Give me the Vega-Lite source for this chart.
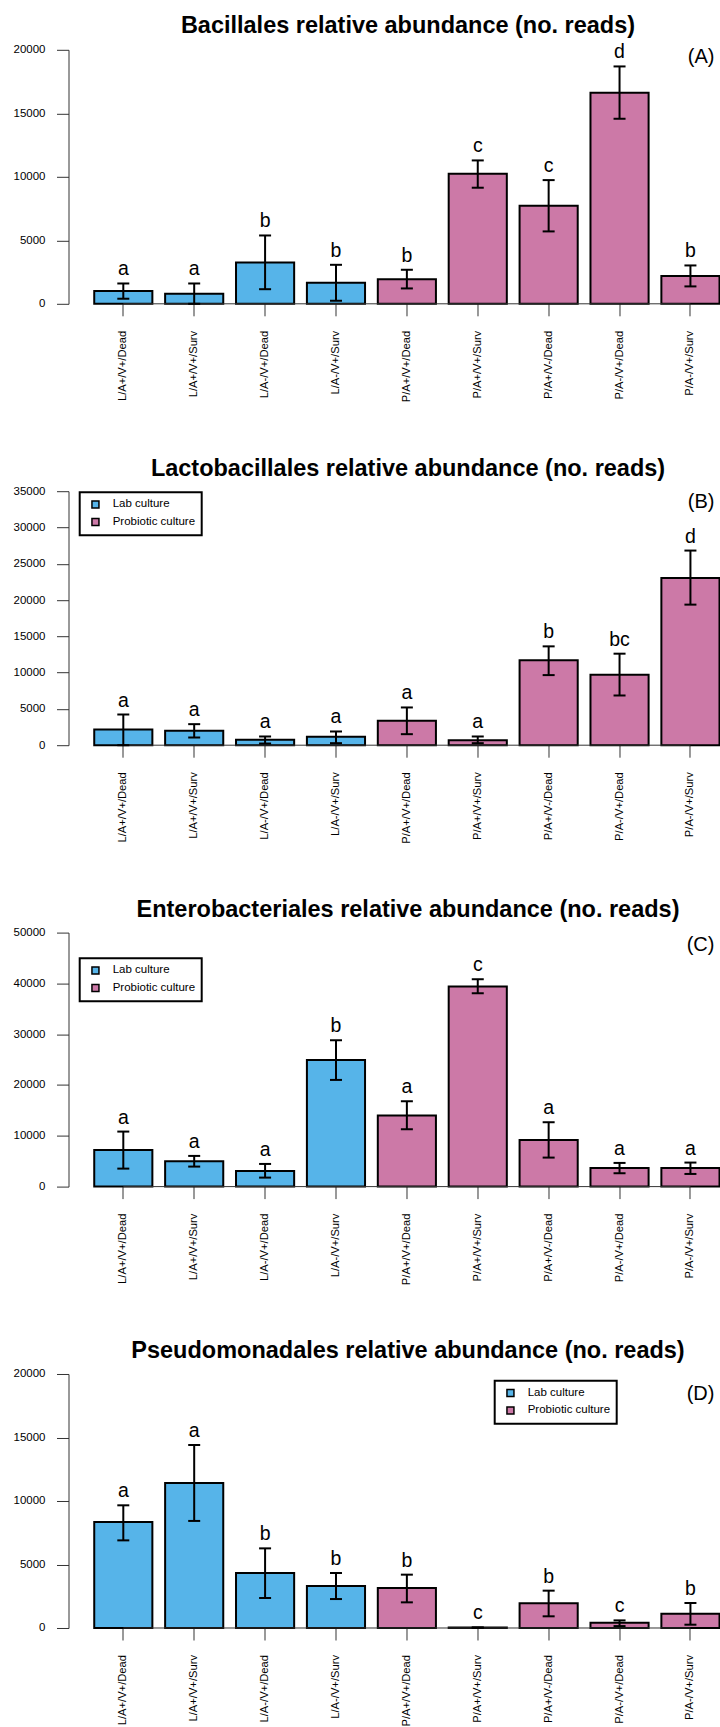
{
  "$schema": "https://vega.github.io/schema/vega-lite/v6.json",
  "background": "white",
  "padding": {"left": 12.5, "top": 13.8, "right": 0, "bottom": 0},
  "config": {
    "view": {"stroke": null},
    "font": "Liberation Sans",
    "title": {"font": "Liberation Sans", "fontSize": 23.5, "fontWeight": "bold", "color": "black", "anchor": "middle", "frame": "group", "offset": 5, "baseline": "alphabetic", "dx": 14},
    "axisY": {"grid": false, "tickSize": 12, "tickColor": "#333", "domainColor": "#333", "labelFont": "Liberation Sans", "labelFontSize": 11.5, "labelColor": "black", "labelPadding": 11.5, "format": "d", "labelOverlap": false},
    "axisX": {"labelAngle": -90, "labelFont": "Liberation Sans", "labelFontSize": 11.2, "labelColor": "black", "tickSize": 12, "tickColor": "#333", "labelPadding": 14.5, "domain": false, "labelLimit": 200},
    "legend": {"orient": "none", "title": null, "symbolType": "square", "symbolSize": 49, "symbolStrokeColor": "black", "symbolStrokeWidth": 1.5, "labelFont": "Liberation Sans", "labelFontSize": 11.5, "labelColor": "black", "labelOffset": 11.5, "symbolOffset": 3.5, "rowPadding": 3.5, "padding": 6.5, "strokeColor": "black", "strokeWidth": 2, "fillColor": "white"}
  },
  "data": {"values": [
    {"panel": "A", "group": "L/A+/V+/Dead", "culture": "Lab culture", "mean": 1000, "lo": 400, "hi": 1600, "letter": "a"},
    {"panel": "A", "group": "L/A+/V+/Surv", "culture": "Lab culture", "mean": 800, "lo": 0, "hi": 1600, "letter": "a"},
    {"panel": "A", "group": "L/A-/V+/Dead", "culture": "Lab culture", "mean": 3250, "lo": 1150, "hi": 5380, "letter": "b"},
    {"panel": "A", "group": "L/A-/V+/Surv", "culture": "Lab culture", "mean": 1650, "lo": 240, "hi": 3070, "letter": "b"},
    {"panel": "A", "group": "P/A+/V+/Dead", "culture": "Probiotic culture", "mean": 1940, "lo": 1210, "hi": 2680, "letter": "b"},
    {"panel": "A", "group": "P/A+/V+/Surv", "culture": "Probiotic culture", "mean": 10240, "lo": 9140, "hi": 11290, "letter": "c"},
    {"panel": "A", "group": "P/A+/V-/Dead", "culture": "Probiotic culture", "mean": 7720, "lo": 5700, "hi": 9740, "letter": "c"},
    {"panel": "A", "group": "P/A-/V+/Dead", "culture": "Probiotic culture", "mean": 16620, "lo": 14570, "hi": 18690, "letter": "d"},
    {"panel": "A", "group": "P/A-/V+/Surv", "culture": "Probiotic culture", "mean": 2180, "lo": 1370, "hi": 3020, "letter": "b"},
    {"panel": "B", "group": "L/A+/V+/Dead", "culture": "Lab culture", "mean": 2160, "lo": 0, "hi": 4230, "letter": "a"},
    {"panel": "B", "group": "L/A+/V+/Surv", "culture": "Lab culture", "mean": 1980, "lo": 1060, "hi": 2900, "letter": "a"},
    {"panel": "B", "group": "L/A-/V+/Dead", "culture": "Lab culture", "mean": 740, "lo": 230, "hi": 1200, "letter": "a"},
    {"panel": "B", "group": "L/A-/V+/Surv", "culture": "Lab culture", "mean": 1150, "lo": 280, "hi": 1890, "letter": "a"},
    {"panel": "B", "group": "P/A+/V+/Dead", "culture": "Probiotic culture", "mean": 3360, "lo": 1520, "hi": 5200, "letter": "a"},
    {"panel": "B", "group": "P/A+/V+/Surv", "culture": "Probiotic culture", "mean": 690, "lo": 280, "hi": 1200, "letter": "a"},
    {"panel": "B", "group": "P/A+/V-/Dead", "culture": "Probiotic culture", "mean": 11690, "lo": 9660, "hi": 13620, "letter": "b"},
    {"panel": "B", "group": "P/A-/V+/Dead", "culture": "Probiotic culture", "mean": 9710, "lo": 6850, "hi": 12610, "letter": "bc"},
    {"panel": "B", "group": "P/A-/V+/Surv", "culture": "Probiotic culture", "mean": 23050, "lo": 19370, "hi": 26820, "letter": "d"},
    {"panel": "C", "group": "L/A+/V+/Dead", "culture": "Lab culture", "mean": 7220, "lo": 3540, "hi": 10830, "letter": "a"},
    {"panel": "C", "group": "L/A+/V+/Surv", "culture": "Lab culture", "mean": 4990, "lo": 3940, "hi": 6040, "letter": "a"},
    {"panel": "C", "group": "L/A-/V+/Dead", "culture": "Lab culture", "mean": 3080, "lo": 1770, "hi": 4460, "letter": "a"},
    {"panel": "C", "group": "L/A-/V+/Surv", "culture": "Lab culture", "mean": 24940, "lo": 21000, "hi": 28810, "letter": "b"},
    {"panel": "C", "group": "P/A+/V+/Dead", "culture": "Probiotic culture", "mean": 13980, "lo": 11290, "hi": 16800, "letter": "a"},
    {"panel": "C", "group": "P/A+/V+/Surv", "culture": "Probiotic culture", "mean": 39370, "lo": 38060, "hi": 40820, "letter": "c"},
    {"panel": "C", "group": "P/A+/V-/Dead", "culture": "Probiotic culture", "mean": 9190, "lo": 5710, "hi": 12670, "letter": "a"},
    {"panel": "C", "group": "P/A-/V+/Dead", "culture": "Probiotic culture", "mean": 3680, "lo": 2630, "hi": 4660, "letter": "a"},
    {"panel": "C", "group": "P/A-/V+/Surv", "culture": "Probiotic culture", "mean": 3650, "lo": 2490, "hi": 4730, "letter": "a"},
    {"panel": "D", "group": "L/A+/V+/Dead", "culture": "Lab culture", "mean": 8350, "lo": 6900, "hi": 9660, "letter": "a"},
    {"panel": "D", "group": "L/A+/V+/Surv", "culture": "Lab culture", "mean": 11420, "lo": 8430, "hi": 14410, "letter": "a"},
    {"panel": "D", "group": "L/A-/V+/Dead", "culture": "Lab culture", "mean": 4330, "lo": 2360, "hi": 6270, "letter": "b"},
    {"panel": "D", "group": "L/A-/V+/Surv", "culture": "Lab culture", "mean": 3310, "lo": 2280, "hi": 4330, "letter": "b"},
    {"panel": "D", "group": "P/A+/V+/Dead", "culture": "Probiotic culture", "mean": 3150, "lo": 2020, "hi": 4200, "letter": "b"},
    {"panel": "D", "group": "P/A+/V+/Surv", "culture": "Probiotic culture", "mean": 30, "lo": 10, "hi": 50, "letter": "c"},
    {"panel": "D", "group": "P/A+/V-/Dead", "culture": "Probiotic culture", "mean": 1940, "lo": 920, "hi": 2940, "letter": "b"},
    {"panel": "D", "group": "P/A-/V+/Dead", "culture": "Probiotic culture", "mean": 420, "lo": 150, "hi": 600, "letter": "c"},
    {"panel": "D", "group": "P/A-/V+/Surv", "culture": "Probiotic culture", "mean": 1130, "lo": 260, "hi": 1970, "letter": "b"}
  ]},
  "spacing": 187.4,
  "bounds": "flush",
  "resolve": {"scale": {"color": "independent", "x": "independent", "y": "independent"}, "legend": {"color": "independent"}},
  "vconcat": [
    {
      "title": "Bacillales relative abundance (no. reads)",
      "width": 651, "height": 254,
      "transform": [{"filter": "datum.panel === 'A'"}],
      "encoding": {"x": {"field": "group", "type": "nominal", "title": null, "sort": ["L/A+/V+/Dead","L/A+/V+/Surv","L/A-/V+/Dead","L/A-/V+/Surv","P/A+/V+/Dead","P/A+/V+/Surv","P/A+/V-/Dead","P/A-/V+/Dead","P/A-/V+/Surv"], "scale": {"type": "band", "paddingInner": 0.18, "paddingOuter": 0.1815, "align": 1, "round": false}}},
      "layer": [
        {"mark": {"type": "bar", "stroke": "black", "strokeWidth": 2}, "encoding": {"y": {"field": "mean", "type": "quantitative", "title": null, "scale": {"domain": [0, 20000], "nice": false}, "axis": {"values": [0, 5000, 10000, 15000, 20000]}}, "color": {"field": "culture", "type": "nominal", "scale": {"domain": ["Lab culture", "Probiotic culture"], "range": ["#56B4E9", "#CC79A7"]}, "legend": null}}},
        {"transform": [{"filter": "datum.group === 'L/A+/V+/Dead'"}], "mark": {"type": "rule", "color": "#333", "strokeWidth": 1}, "encoding": {"x": {"datum": "L/A+/V+/Dead", "title": null}, "x2": {"datum": "P/A-/V+/Surv"}, "y": {"datum": 0, "type": "quantitative", "title": null, "axis": {"values": [0, 5000, 10000, 15000, 20000]}}}},
        {"mark": {"type": "rule", "color": "black", "strokeWidth": 2}, "encoding": {"y": {"field": "lo", "type": "quantitative", "title": null, "axis": {"values": [0, 5000, 10000, 15000, 20000]}}, "y2": {"field": "hi"}}},
        {"mark": {"type": "tick", "color": "black", "size": 12, "thickness": 2, "opacity": 1}, "encoding": {"y": {"field": "hi", "type": "quantitative", "title": null, "axis": {"values": [0, 5000, 10000, 15000, 20000]}}}},
        {"mark": {"type": "tick", "color": "black", "size": 12, "thickness": 2, "opacity": 1}, "encoding": {"y": {"field": "lo", "type": "quantitative", "title": null, "axis": {"values": [0, 5000, 10000, 15000, 20000]}}}},
        {"mark": {"type": "text", "font": "Liberation Sans", "fontSize": 19.5, "color": "black", "baseline": "alphabetic", "dy": -8}, "encoding": {"y": {"field": "hi", "type": "quantitative", "title": null, "axis": {"values": [0, 5000, 10000, 15000, 20000]}}, "text": {"field": "letter"}}},
        {"transform": [{"filter": "datum.group === 'P/A-/V+/Surv'"}], "mark": {"type": "text", "font": "Liberation Sans", "fontSize": 20, "color": "black", "align": "right", "baseline": "middle", "dx": 24}, "encoding": {"y": {"datum": 19450, "type": "quantitative", "title": null, "axis": {"values": [0, 5000, 10000, 15000, 20000]}}, "text": {"value": "(A)"}}}
      ]
    },
    {
      "title": "Lactobacillales relative abundance (no. reads)",
      "width": 651, "height": 254,
      "transform": [{"filter": "datum.panel === 'B'"}],
      "encoding": {"x": {"field": "group", "type": "nominal", "title": null, "sort": ["L/A+/V+/Dead","L/A+/V+/Surv","L/A-/V+/Dead","L/A-/V+/Surv","P/A+/V+/Dead","P/A+/V+/Surv","P/A+/V-/Dead","P/A-/V+/Dead","P/A-/V+/Surv"], "scale": {"type": "band", "paddingInner": 0.18, "paddingOuter": 0.1815, "align": 1, "round": false}}},
      "layer": [
        {"mark": {"type": "bar", "stroke": "black", "strokeWidth": 2}, "encoding": {"y": {"field": "mean", "type": "quantitative", "title": null, "scale": {"domain": [0, 35000], "nice": false}, "axis": {"values": [0, 5000, 10000, 15000, 20000, 25000, 30000, 35000]}}, "color": {"field": "culture", "type": "nominal", "scale": {"domain": ["Lab culture", "Probiotic culture"], "range": ["#56B4E9", "#CC79A7"]}, "legend": {"orient": "none", "legendX": 11.2, "legendY": 1}}}},
        {"transform": [{"filter": "datum.group === 'L/A+/V+/Dead'"}], "mark": {"type": "rule", "color": "#333", "strokeWidth": 1}, "encoding": {"x": {"datum": "L/A+/V+/Dead", "title": null}, "x2": {"datum": "P/A-/V+/Surv"}, "y": {"datum": 0, "type": "quantitative", "title": null, "axis": {"values": [0, 5000, 10000, 15000, 20000, 25000, 30000, 35000]}}}},
        {"mark": {"type": "rule", "color": "black", "strokeWidth": 2}, "encoding": {"y": {"field": "lo", "type": "quantitative", "title": null, "axis": {"values": [0, 5000, 10000, 15000, 20000, 25000, 30000, 35000]}}, "y2": {"field": "hi"}}},
        {"mark": {"type": "tick", "color": "black", "size": 12, "thickness": 2, "opacity": 1}, "encoding": {"y": {"field": "hi", "type": "quantitative", "title": null, "axis": {"values": [0, 5000, 10000, 15000, 20000, 25000, 30000, 35000]}}}},
        {"mark": {"type": "tick", "color": "black", "size": 12, "thickness": 2, "opacity": 1}, "encoding": {"y": {"field": "lo", "type": "quantitative", "title": null, "axis": {"values": [0, 5000, 10000, 15000, 20000, 25000, 30000, 35000]}}}},
        {"mark": {"type": "text", "font": "Liberation Sans", "fontSize": 19.5, "color": "black", "baseline": "alphabetic", "dy": -8}, "encoding": {"y": {"field": "hi", "type": "quantitative", "title": null, "axis": {"values": [0, 5000, 10000, 15000, 20000, 25000, 30000, 35000]}}, "text": {"field": "letter"}}},
        {"transform": [{"filter": "datum.group === 'P/A-/V+/Surv'"}], "mark": {"type": "text", "font": "Liberation Sans", "fontSize": 20, "color": "black", "align": "right", "baseline": "middle", "dx": 24}, "encoding": {"y": {"datum": 33580, "type": "quantitative", "title": null, "axis": {"values": [0, 5000, 10000, 15000, 20000, 25000, 30000, 35000]}}, "text": {"value": "(B)"}}}
      ]
    },
    {
      "title": "Enterobacteriales relative abundance (no. reads)",
      "width": 651, "height": 254,
      "transform": [{"filter": "datum.panel === 'C'"}],
      "encoding": {"x": {"field": "group", "type": "nominal", "title": null, "sort": ["L/A+/V+/Dead","L/A+/V+/Surv","L/A-/V+/Dead","L/A-/V+/Surv","P/A+/V+/Dead","P/A+/V+/Surv","P/A+/V-/Dead","P/A-/V+/Dead","P/A-/V+/Surv"], "scale": {"type": "band", "paddingInner": 0.18, "paddingOuter": 0.1815, "align": 1, "round": false}}},
      "layer": [
        {"mark": {"type": "bar", "stroke": "black", "strokeWidth": 2}, "encoding": {"y": {"field": "mean", "type": "quantitative", "title": null, "scale": {"domain": [0, 50000], "nice": false}, "axis": {"values": [0, 10000, 20000, 30000, 40000, 50000]}}, "color": {"field": "culture", "type": "nominal", "scale": {"domain": ["Lab culture", "Probiotic culture"], "range": ["#56B4E9", "#CC79A7"]}, "legend": {"orient": "none", "legendX": 11.2, "legendY": 25.6}}}},
        {"transform": [{"filter": "datum.group === 'L/A+/V+/Dead'"}], "mark": {"type": "rule", "color": "#333", "strokeWidth": 1}, "encoding": {"x": {"datum": "L/A+/V+/Dead", "title": null}, "x2": {"datum": "P/A-/V+/Surv"}, "y": {"datum": 0, "type": "quantitative", "title": null, "axis": {"values": [0, 10000, 20000, 30000, 40000, 50000]}}}},
        {"mark": {"type": "rule", "color": "black", "strokeWidth": 2}, "encoding": {"y": {"field": "lo", "type": "quantitative", "title": null, "axis": {"values": [0, 10000, 20000, 30000, 40000, 50000]}}, "y2": {"field": "hi"}}},
        {"mark": {"type": "tick", "color": "black", "size": 12, "thickness": 2, "opacity": 1}, "encoding": {"y": {"field": "hi", "type": "quantitative", "title": null, "axis": {"values": [0, 10000, 20000, 30000, 40000, 50000]}}}},
        {"mark": {"type": "tick", "color": "black", "size": 12, "thickness": 2, "opacity": 1}, "encoding": {"y": {"field": "lo", "type": "quantitative", "title": null, "axis": {"values": [0, 10000, 20000, 30000, 40000, 50000]}}}},
        {"mark": {"type": "text", "font": "Liberation Sans", "fontSize": 19.5, "color": "black", "baseline": "alphabetic", "dy": -8}, "encoding": {"y": {"field": "hi", "type": "quantitative", "title": null, "axis": {"values": [0, 10000, 20000, 30000, 40000, 50000]}}, "text": {"field": "letter"}}},
        {"transform": [{"filter": "datum.group === 'P/A-/V+/Surv'"}], "mark": {"type": "text", "font": "Liberation Sans", "fontSize": 20, "color": "black", "align": "right", "baseline": "middle", "dx": 24}, "encoding": {"y": {"datum": 47640, "type": "quantitative", "title": null, "axis": {"values": [0, 10000, 20000, 30000, 40000, 50000]}}, "text": {"value": "(C)"}}}
      ]
    },
    {
      "title": "Pseudomonadales relative abundance (no. reads)",
      "width": 651, "height": 254,
      "transform": [{"filter": "datum.panel === 'D'"}],
      "encoding": {"x": {"field": "group", "type": "nominal", "title": null, "sort": ["L/A+/V+/Dead","L/A+/V+/Surv","L/A-/V+/Dead","L/A-/V+/Surv","P/A+/V+/Dead","P/A+/V+/Surv","P/A+/V-/Dead","P/A-/V+/Dead","P/A-/V+/Surv"], "scale": {"type": "band", "paddingInner": 0.18, "paddingOuter": 0.1815, "align": 1, "round": false}}},
      "layer": [
        {"mark": {"type": "bar", "stroke": "black", "strokeWidth": 2}, "encoding": {"y": {"field": "mean", "type": "quantitative", "title": null, "scale": {"domain": [0, 20000], "nice": false}, "axis": {"values": [0, 5000, 10000, 15000, 20000]}}, "color": {"field": "culture", "type": "nominal", "scale": {"domain": ["Lab culture", "Probiotic culture"], "range": ["#56B4E9", "#CC79A7"]}, "legend": {"orient": "none", "legendX": 426.2, "legendY": 6.7}}}},
        {"transform": [{"filter": "datum.group === 'L/A+/V+/Dead'"}], "mark": {"type": "rule", "color": "#333", "strokeWidth": 1}, "encoding": {"x": {"datum": "L/A+/V+/Dead", "title": null}, "x2": {"datum": "P/A-/V+/Surv"}, "y": {"datum": 0, "type": "quantitative", "title": null, "axis": {"values": [0, 5000, 10000, 15000, 20000]}}}},
        {"mark": {"type": "rule", "color": "black", "strokeWidth": 2}, "encoding": {"y": {"field": "lo", "type": "quantitative", "title": null, "axis": {"values": [0, 5000, 10000, 15000, 20000]}}, "y2": {"field": "hi"}}},
        {"mark": {"type": "tick", "color": "black", "size": 12, "thickness": 2, "opacity": 1}, "encoding": {"y": {"field": "hi", "type": "quantitative", "title": null, "axis": {"values": [0, 5000, 10000, 15000, 20000]}}}},
        {"mark": {"type": "tick", "color": "black", "size": 12, "thickness": 2, "opacity": 1}, "encoding": {"y": {"field": "lo", "type": "quantitative", "title": null, "axis": {"values": [0, 5000, 10000, 15000, 20000]}}}},
        {"mark": {"type": "text", "font": "Liberation Sans", "fontSize": 19.5, "color": "black", "baseline": "alphabetic", "dy": -8}, "encoding": {"y": {"field": "hi", "type": "quantitative", "title": null, "axis": {"values": [0, 5000, 10000, 15000, 20000]}}, "text": {"field": "letter"}}},
        {"transform": [{"filter": "datum.group === 'P/A-/V+/Surv'"}], "mark": {"type": "text", "font": "Liberation Sans", "fontSize": 20, "color": "black", "align": "right", "baseline": "middle", "dx": 24}, "encoding": {"y": {"datum": 18410, "type": "quantitative", "title": null, "axis": {"values": [0, 5000, 10000, 15000, 20000]}}, "text": {"value": "(D)"}}}
      ]
    }
  ]
}
